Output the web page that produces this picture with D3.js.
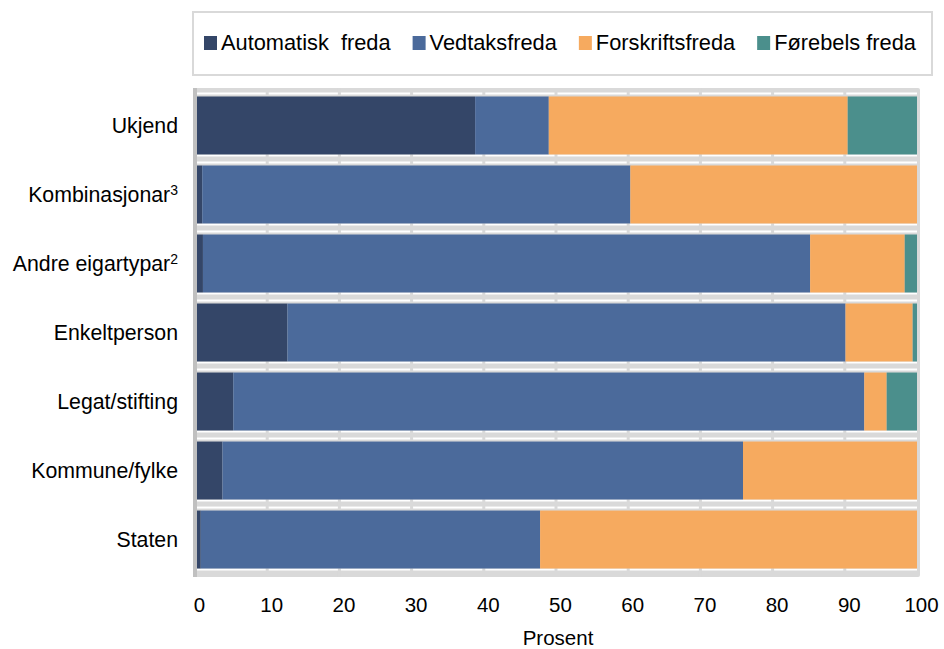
<!DOCTYPE html>
<html>
<head>
<meta charset="utf-8">
<script src="https://cdn.jsdelivr.net/npm/d3@7"></script>
<style>
  body { margin: 0; background: #fff; }
  text { font-family: "Liberation Sans", Arial, sans-serif; fill: #000; }
</style>
</head>
<body>
<div id="chart"></div>
<script>
// Data
const categories = ['Ukjend', 'Kombinasjonar', 'Andre eigartypar', 'Enkeltperson', 'Legat/stifting', 'Kommune/fylke', 'Staten'];
const superscripts = ['', '3', '2', '', '', '', ''];
const seriesNames = ['Automatisk  freda', 'Vedtaksfreda', 'Forskriftsfreda', 'Førebels freda'];
const automatisk = [38.8, 1.0, 1.1, 12.8, 5.3, 3.8, 0.8];
const vedtaks = [10.2, 59.3, 84.1, 77.3, 87.4, 72.1, 47.0];
const forskrifts = [41.4, 39.7, 13.1, 9.3, 3.1, 24.1, 52.2];
const forebels = [9.6, 0.0, 1.7, 0.6, 4.2, 0.0, 0.0];
const xTicks = [0, 10, 20, 30, 40, 50, 60, 70, 80, 90, 100];

// Constant
const width = 944;
const height = 649;
const plot = {left: 195, right: 917, top: 88, bottom: 577};
const colors = ['#344668', '#4b6a9b', '#f6aa5f', '#4b8f8c'];
const gridGray = '#d9d9d9';
const fontSize = '20.5px';
const labelSize = '21.3px';
const legendSize = '21.8px';

const svg = d3.select('#chart').append('svg')
    .attr('width', width)
    .attr('height', height);

const xScale = d3.scaleLinear().domain([0, 100]).range([plot.left, plot.right]);
const yScale = d3.scaleBand()
    .domain(categories)
    .range([plot.top, plot.bottom])
    .paddingInner(0.16)
    .paddingOuter(0.123);
const bw = yScale.bandwidth();

// stacked data
const table = categories.map((c, i) => ({
    cat: c,
    s0: automatisk[i], s1: vedtaks[i], s2: forskrifts[i], s3: forebels[i]
}));
const stack = d3.stack().keys(['s0', 's1', 's2', 's3'])(table);

// plot background (grey bands between bars)
svg.append('rect')
    .attr('x', plot.left - 2)
    .attr('y', plot.top)
    .attr('width', plot.right - plot.left + 5)
    .attr('height', plot.bottom - plot.top)
    .attr('rx', 2)
    .attr('fill', gridGray);

// white lines in the gaps
categories.forEach(c => {
    svg.append('rect')
        .attr('x', plot.left)
        .attr('y', yScale(c) - 4)
        .attr('width', plot.right - plot.left)
        .attr('height', 2)
        .attr('fill', '#fff');
    svg.append('rect')
        .attr('x', plot.left)
        .attr('y', yScale(c) + bw)
        .attr('width', plot.right - plot.left)
        .attr('height', 2)
        .attr('fill', '#fff');
});

// vertical gridlines
svg.append('g').selectAll('line')
    .data(xTicks.slice(1, -1))
    .join('line')
    .attr('x1', d => xScale(d))
    .attr('x2', d => xScale(d))
    .attr('y1', plot.top)
    .attr('y2', plot.bottom)
    .attr('stroke', gridGray)
    .attr('stroke-width', 3);

// bars
svg.append('g').selectAll('g')
    .data(stack)
    .join('g')
    .attr('fill', (d, i) => colors[i])
    .selectAll('rect')
    .data(d => d)
    .join('rect')
    .attr('x', d => xScale(d[0]))
    .attr('y', d => yScale(d.data.cat))
    .attr('width', d => Math.max(0, xScale(d[1]) - xScale(d[0])))
    .attr('height', bw);

// left axis line
svg.append('line')
    .attr('x1', plot.left)
    .attr('x2', plot.left)
    .attr('y1', plot.top)
    .attr('y2', plot.bottom)
    .attr('stroke', '#c0c0c0')
    .attr('stroke-width', 4);

// x axis
const xAxis = svg.append('g')
    .attr('transform', `translate(4, ${plot.bottom})`)
    .call(d3.axisBottom(xScale).tickValues(xTicks).tickSize(0).tickPadding(20));
xAxis.select('.domain').remove();
xAxis.selectAll('text')
    .style('font-size', fontSize)
    .style('font-family', '"Liberation Sans", Arial, sans-serif')
    .attr('fill', '#000');

svg.append('text')
    .attr('x', 558)
    .attr('y', 645)
    .attr('text-anchor', 'middle')
    .style('font-size', fontSize)
    .text('Prosent');

// y labels
const yLab = svg.append('g').selectAll('text')
    .data(categories)
    .join('text')
    .attr('x', d => superscripts[categories.indexOf(d)] ? 178 : 178)
    .attr('y', d => yScale(d) + bw / 2)
    .attr('dy', '0.35em')
    .attr('text-anchor', 'end')
    .style('font-size', labelSize);
yLab.append('tspan').text(d => d);
yLab.append('tspan')
    .attr('dy', '-0.5em')
    .style('font-size', '14px')
    .text((d, i) => superscripts[i]);

// legend
svg.append('rect')
    .attr('x', 193)
    .attr('y', 12)
    .attr('width', 739)
    .attr('height', 63)
    .attr('fill', '#fff')
    .attr('stroke', gridGray)
    .attr('stroke-width', 2);

let lx = 204;
seriesNames.forEach((name, i) => {
    svg.append('rect')
        .attr('x', lx)
        .attr('y', 36)
        .attr('width', 13)
        .attr('height', 14)
        .attr('fill', colors[i]);
    const t = svg.append('text')
        .attr('x', lx + 17)
        .attr('y', 50)
        .style('font-size', legendSize)
        .style('white-space', 'pre')
        .text(name);
    lx += 17 + t.node().getComputedTextLength() + 22;
});
</script>
</body>
</html>
